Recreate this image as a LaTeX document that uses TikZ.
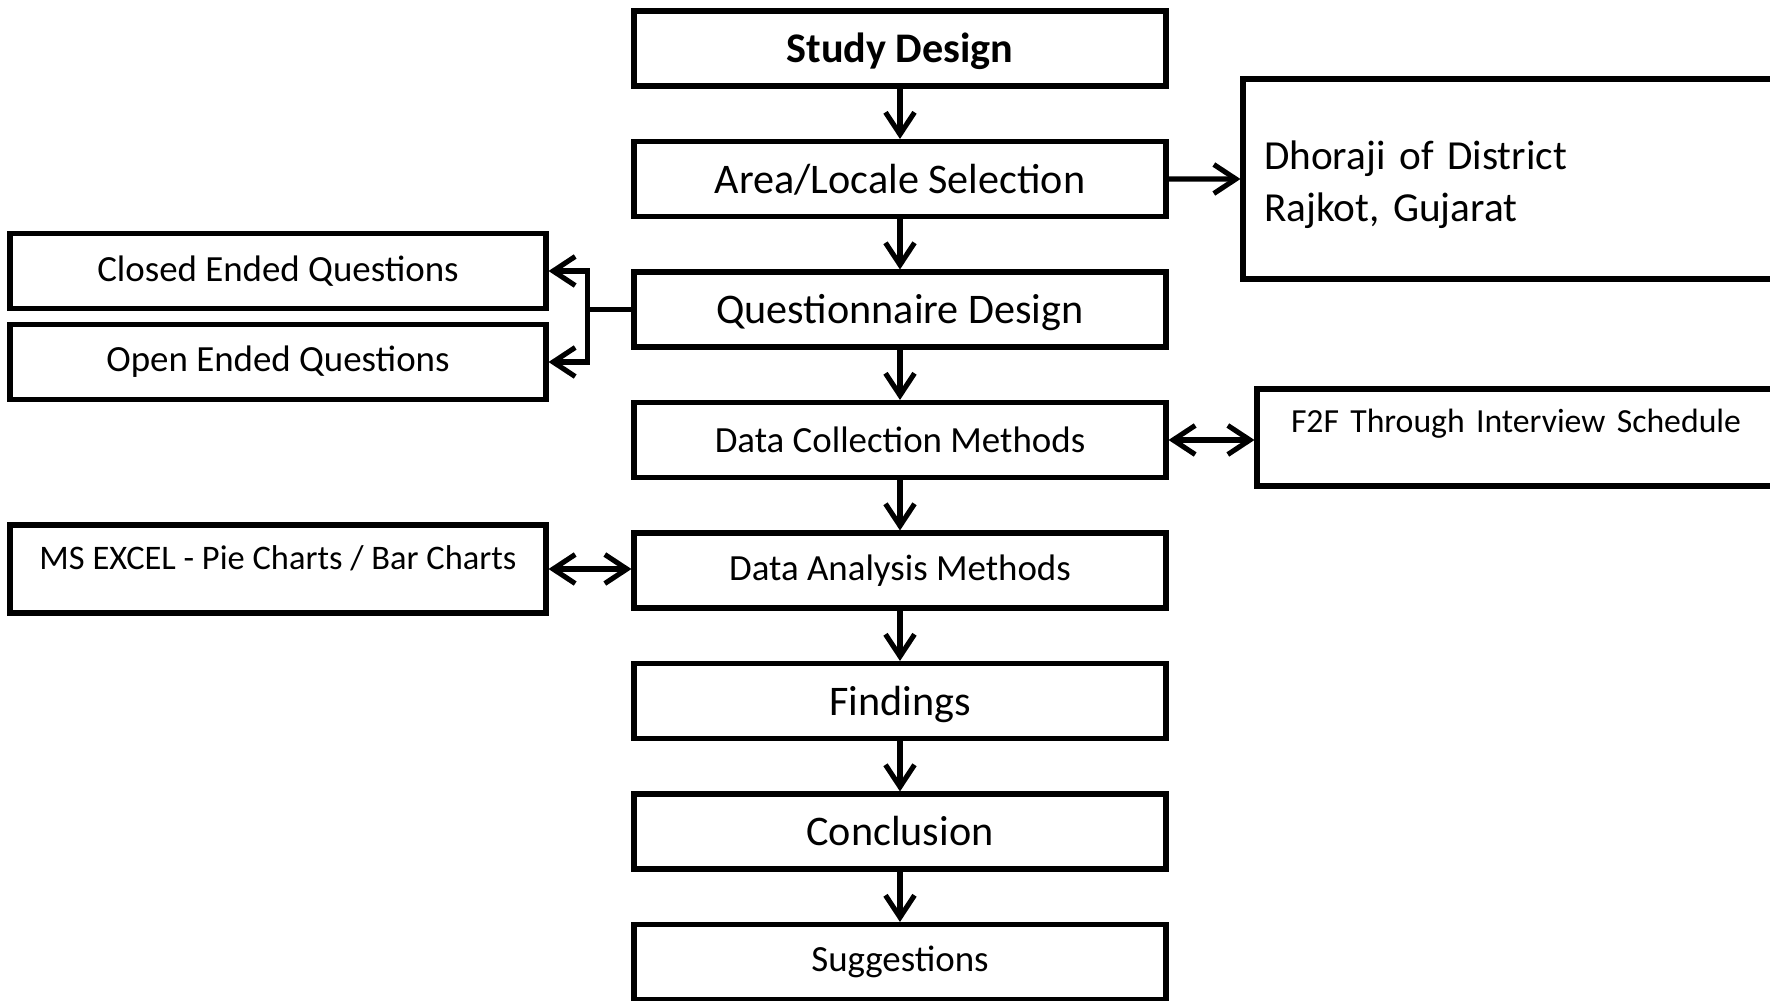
\documentclass[tikz,border=0pt]{standalone}
\usepackage{fontspec}
\setmainfont{Carlito}
\usetikzlibrary{positioning, arrows.meta}

\begin{document}
\begin{tikzpicture}[x=0.1mm, y=-0.1mm,
  box/.style={draw, line width=1.45pt, minimum width=53.2mm, minimum height=7.5mm, inner sep=0pt},
  head/.style={font=\fontsize{12}{14.7}\selectfont\bfseries, text height=9.5pt, text depth=1.5pt},
  big/.style={font=\fontsize{12}{14.7}\selectfont, text height=9.5pt, text depth=1.5pt},
  small/.style={font=\fontsize{10.5}{12.6}\selectfont},
  flow/.style={line width=1.45pt, -{Straight Barb[length=2.2mm, width=2.9mm]}},
  twoway/.style={flow, {Straight Barb[length=2.2mm, width=2.9mm]}-{Straight Barb[length=2.2mm, width=2.9mm]}},
  node distance=5.04mm
]
\clip (0,0) rectangle (1770,1000);

% main chain
\node[box, head] (design) at (900,48.5) {Study Design};
\node[box, big, below=of design] (area) {Area/Locale Selection};
\node[box, big, below=of area] (quest) {Questionnaire Design};
\node[box, small, below=of quest] (collect) {Data Collection Methods};
\node[box, small, below=of collect] (analysis) {Data Analysis Methods};
\node[box, big, below=of analysis] (findings) {Findings};
\node[box, big, below=of findings] (concl) {Conclusion};
\node[box, small, below=of concl] (suggest) {Suggestions};

% side boxes
\node[box, small, minimum width=53.6mm] (closed) at (278,271) {Closed Ended Questions};
\node[box, small, minimum width=53.6mm] (open) at (278,362) {Open Ended Questions};
\node[box, small, font=\fontsize{9.8}{12}\selectfont, minimum width=53.6mm, minimum height=8.8mm, text height=7.5pt, text depth=7.5pt] (excel) at (278,569) {MS EXCEL - Pie Charts / Bar Charts};
\node[box, big, font=\fontsize{11.75}{14.7}\selectfont, text height=, text depth=, minimum width=56mm, minimum height=20mm, inner xsep=2.1mm, text width=51.8mm, align=left] (place) at (1523,179) {\rule{0pt}{11.5pt}Dhoraji of District\\Rajkot, Gujarat};
\node[box, small, font=\fontsize{9.6}{12}\selectfont, minimum height=9.7mm, inner xsep=3.4mm, text width=54mm, align=left, text height=7.5pt, text depth=10.5pt] (f2f) at (1561,437.5) {F2F Through Interview Schedule};

\draw[flow] (design) -- (area);
\draw[flow] (area) -- (quest);
\draw[flow] (quest) -- (collect);
\draw[flow] (collect) -- (analysis);
\draw[flow] (analysis) -- (findings);
\draw[flow] (findings) -- (concl);
\draw[flow] (concl) -- (suggest);

\draw[flow] (area) -- (place);
\draw[twoway] (collect.east) -- (collect.east -| f2f.west);
\draw[twoway] (excel.east) -- (excel.east -| analysis.west);

% split to the two question types
\coordinate[left=4.4mm of quest.west] (fork);
\draw[flow] (quest.west) -- (fork) |- (closed.east);
\draw[flow] (fork) |- (open.east);
\end{tikzpicture}
\end{document}
